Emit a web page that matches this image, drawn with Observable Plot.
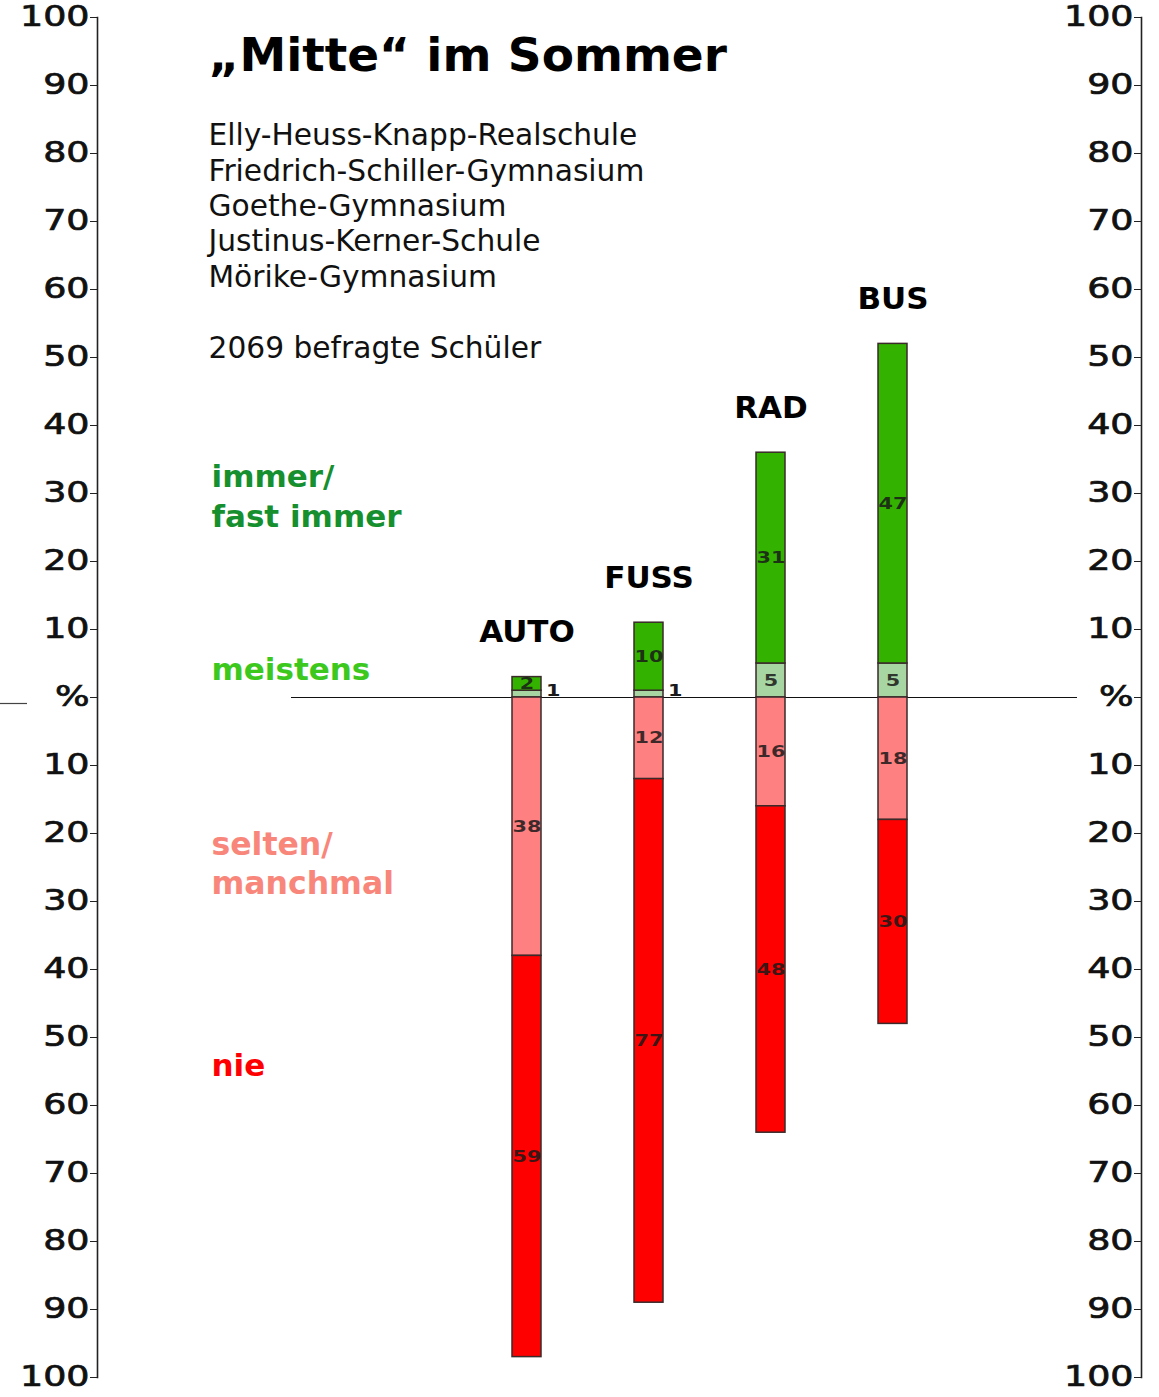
<!DOCTYPE html>
<html><head><meta charset="utf-8">
<script src="https://cdn.jsdelivr.net/npm/d3@7"></script>
<script src="https://cdn.jsdelivr.net/npm/@observablehq/plot@0.6"></script>
<style>body{margin:0;background:#fff}</style>
</head><body><div id="chart"></div>
<script>
const categories = ["AUTO", "FUSS", "RAD", "BUS"];
const immer = [2, 10, 31, 47];
const meistens = [1, 1, 5, 5];
const selten = [38, 12, 16, 18];
const nie = [59, 77, 48, 30];
const seriesNames = ["meistens", "immer", "selten", "nie"];
const seriesSign = [1, 1, -1, -1];
const seriesValues = [meistens, immer, selten, nie];
const seriesFill = ["#a8d6a2", "#33b300", "#ff8080", "#ff0000"];
const legendLabels = ["immer/\nfast immer", "meistens", "selten/\nmanchmal", "nie"];
const legendColors = ["#16902e", "#3cc81c", "#f8867a", "#ff0000"];
const axisTicks = d3.range(-100, 101, 10);
const title = "„Mitte“ im Sommer";
const schools = ["Elly-Heuss-Knapp-Realschule", "Friedrich-Schiller-Gymnasium", "Goethe-Gymnasium", "Justinus-Kerner-Schule", "Mörike-Gymnasium"];
const respondents = "2069 befragte Schüler";

const rows = [];
categories.forEach((c, i) => {
  seriesNames.forEach((s, j) => {
    rows.push({cat: c, series: s, value: seriesValues[j][i], signed: seriesSign[j] * seriesValues[j][i]});
  });
});
const tops = categories.map((c, i) => ({cat: c, top: immer[i] + meistens[i]}));

const fmt = d => d === 0 ? "%" : String(Math.abs(d));
const axisOpts = {anchor: "left", ticks: axisTicks, tickFormat: fmt, tickSize: 7, tickPadding: 1, fontSize: 28, stroke: "#222"};
const F = "DejaVu Sans";

const svg = Plot.plot({
  width: 1159,
  height: 1397,
  marginLeft: 97,
  marginRight: 18,
  marginTop: 17,
  marginBottom: 20,
  style: {fontFamily: F, background: "#fff", color: "#111"},
  x: {type: "band", domain: categories, range: [466, 954], paddingInner: 0.76, paddingOuter: 0.38, axis: null},
  y: {domain: [-100, 100]},
  color: {domain: seriesNames, range: seriesFill},
  marks: [
    Plot.frame({anchor: "left", stroke: "#222", strokeWidth: 1.6}),
    Plot.frame({anchor: "right", stroke: "#222", strokeWidth: 1.6}),
    Plot.axisY({...axisOpts}),
    Plot.axisY({...axisOpts, dx: 1044}),
    Plot.ruleY([0], {insetLeft: 194, insetRight: 64, stroke: "#111", strokeWidth: 1.2}),
    Plot.ruleY([0], {insetLeft: -97, insetRight: 1114, dy: 6, stroke: "#444", strokeWidth: 1.2}),
    Plot.barY(rows, Plot.stackY({x: "cat", y: "signed", fill: "series", stroke: "#3a2a2a", strokeWidth: 1.5})),
    Plot.text(rows, Plot.stackY({x: "cat", y: "signed", text: d => d.value > 1 ? String(d.value) : "", fontSize: 16, fontWeight: "bold", fill: "#1a1a1a", fillOpacity: 0.85})),
    Plot.text(rows, Plot.stackY({x: "cat", y: "signed", text: d => d.value <= 1 ? String(d.value) : "", fontSize: 16, fontWeight: "bold", fill: "#1a1a1a", textAnchor: "start", dx: 19, dy: -3})),
    Plot.text(tops, {x: "cat", y: "top", text: "cat", dy: -35, lineAnchor: "bottom", fontSize: 31, fontWeight: "bold", fill: "#000"}),
    Plot.text([title], {frameAnchor: "top-left", text: d => d, dx: 111, dy: 53, lineAnchor: "bottom", fontSize: 47, fontWeight: "bold", fill: "#000"}),
    Plot.text([[...schools, "", respondents].join("\n")], {frameAnchor: "top-left", text: d => d, dx: 111, dy: 340, lineAnchor: "bottom", lineHeight: 1.19, fontSize: 29.7, fill: "#111"}),
    Plot.text([legendLabels[0]], {frameAnchor: "top-left", text: d => d, dx: 114, dy: 509, lineAnchor: "bottom", lineHeight: 1.26, fontSize: 31, fontWeight: "bold", fill: legendColors[0]}),
    Plot.text([legendLabels[1]], {frameAnchor: "top-left", text: d => d, dx: 114, dy: 662, lineAnchor: "bottom", fontSize: 31, fontWeight: "bold", fill: legendColors[1]}),
    Plot.text([legendLabels[2]], {frameAnchor: "top-left", text: d => d, dx: 114, dy: 876, lineAnchor: "bottom", lineHeight: 1.23, fontSize: 31.5, fontWeight: "bold", fill: legendColors[2]}),
    Plot.text([legendLabels[3]], {frameAnchor: "top-left", text: d => d, dx: 114, dy: 1058, lineAnchor: "bottom", fontSize: 31, fontWeight: "bold", fill: legendColors[3]})
  ]
});

const widen = (sel, k) => sel.each(function() {
  const t = this.getAttribute("transform") || "";
  this.setAttribute("transform", t + ` scale(${k},1)`);
});
const tickLabels = d3.select(svg).selectAll('g[aria-label="y-axis tick label"] text');
widen(tickLabels, 1.3);
tickLabels.attr("stroke", "#111").attr("stroke-width", 0.7);
const textGroups = d3.select(svg).selectAll('g[aria-label="text"]').nodes();
widen(d3.select(textGroups[0]).selectAll("text"), 1.3);
widen(d3.select(textGroups[1]).selectAll("text"), 1.3);
document.getElementById("chart").appendChild(svg);
</script>
</body></html>
